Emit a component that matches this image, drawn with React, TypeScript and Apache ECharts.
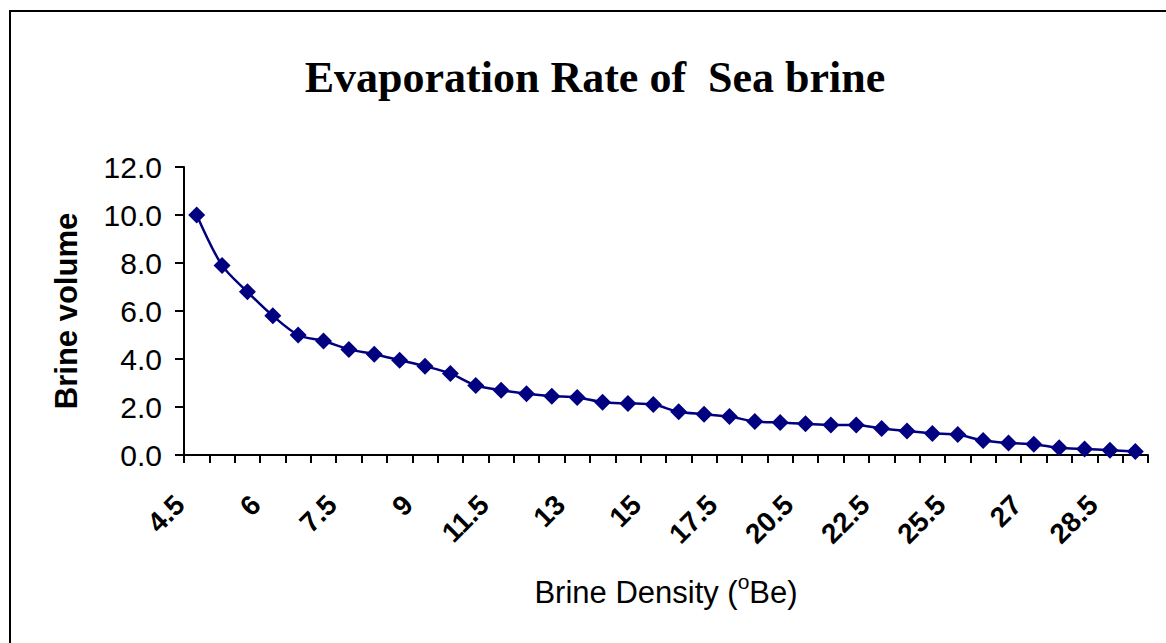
import React, { useEffect, useRef } from "react";
import * as echarts from "echarts";

const densities = [
  "4.5", "5", "5.5", "6", "6.5", "7", "7.5", "8", "8.5", "9",
  "10", "11", "11.5", "12", "12.5", "13", "13.5", "14", "15", "16",
  "17", "17.5", "18.5", "19.5", "20.5", "21", "21.5", "22.5", "23.5", "24.5",
  "25.5", "26", "26.5", "27", "27.5", "28", "28.5", "29",
];

const brineVolume = [
  10.0, 7.9, 6.8, 5.8, 5.0, 4.75, 4.4, 4.2, 3.95, 3.7,
  3.4, 2.9, 2.7, 2.55, 2.45, 2.4, 2.2, 2.15, 2.1, 1.8,
  1.7, 1.6, 1.4, 1.35, 1.3, 1.25, 1.25, 1.1, 1.0, 0.9,
  0.85, 0.6, 0.5, 0.45, 0.3, 0.25, 0.2, 0.15,
];

const titleText = "Evaporation Rate of  Sea brine";
const yAxisTitle = "Brine volume";
const yTicks = { min: 0, max: 12, interval: 2 };

export default function App() {
  const ref = useRef<HTMLDivElement>(null);

  useEffect(() => {
    document.body.style.margin = "0";
    const chart = echarts.init(ref.current!, null, { renderer: "svg" });
    const sans = "Liberation Sans, Arial, sans-serif";
    chart.setOption({
      animation: false,
      backgroundColor: "#ffffff",
      graphic: [
        {
          type: "rect",
          shape: { x: 10, y: 11, width: 1400, height: 900 },
          style: { fill: "none", stroke: "#000", lineWidth: 2 },
          silent: true,
        },
        {
          type: "text",
          x: 595,
          y: 77,
          style: {
            text: titleText,
            font: "bold 44px 'Liberation Serif', 'Times New Roman', serif",
            fill: "#000",
            textAlign: "center",
            textVerticalAlign: "middle",
          },
        },
      ],
      grid: { left: 184, right: 18, top: 167, bottom: 188, containLabel: false },
      xAxis: {
        type: "category",
        data: densities,
        boundaryGap: true,
        name: "{a|Brine Density (}{s|o}{a|Be)}",
        nameLocation: "middle",
        nameGap: 116,
        nameTextStyle: {
          rich: {
            a: { fontFamily: sans, fontSize: 31, color: "#000" },
            s: { fontFamily: sans, fontSize: 21, color: "#000", padding: [0, 0, 22, 0] },
          },
        },
        axisLine: { lineStyle: { color: "#000", width: 2 } },
        axisTick: { show: true, interval: 0, length: 8, lineStyle: { color: "#000", width: 2 } },
        axisLabel: {
          interval: 2,
          rotate: 45,
          margin: 28,
          padding: [0, 24, 0, 0],
          fontFamily: sans,
          fontWeight: "bold",
          fontSize: 28,
          color: "#000",
        },
      },
      yAxis: {
        type: "value",
        min: yTicks.min,
        max: yTicks.max,
        interval: yTicks.interval,
        name: yAxisTitle,
        nameLocation: "middle",
        nameGap: 102,
        nameTextStyle: { fontFamily: sans, fontWeight: "bold", fontSize: 31, color: "#000" },
        axisLine: { show: true, lineStyle: { color: "#000", width: 2 } },
        axisTick: { show: true, length: 9, lineStyle: { color: "#000", width: 2 } },
        splitLine: { show: false },
        axisLabel: {
          margin: 22,
          fontFamily: sans,
          fontSize: 30,
          color: "#000",
          formatter: (v: number) => v.toFixed(1),
        },
      },
      series: [
        {
          type: "line",
          data: brineVolume,
          smooth: 0.3,
          showAllSymbol: true,
          symbol: "diamond",
          symbolSize: 17,
          lineStyle: { color: "#000080", width: 2.5 },
          itemStyle: { color: "#000080" },
        },
      ],
    });
    return () => chart.dispose();
  }, []);

  return <div ref={ref} style={{ width: 1166, height: 643 }} />;
}
